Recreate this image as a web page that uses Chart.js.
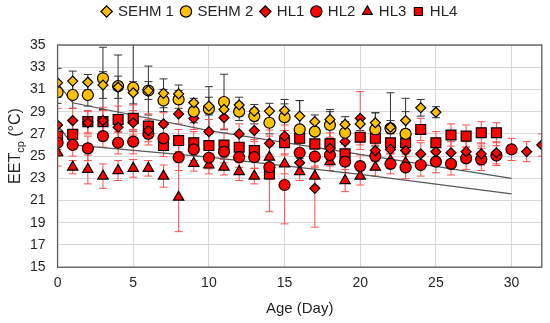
<!DOCTYPE html>
<html>
<head>
<meta charset="utf-8">
<script src="https://cdn.jsdelivr.net/npm/chart.js@4.4.0/dist/chart.umd.min.js"></script>
<style>
  html, body { margin: 0; padding: 0; background: #fff; }
  #wrap { width: 550px; height: 323px; }
</style>
</head>
<body>
<div id="wrap"><canvas id="grafico"></canvas></div>
<script>
  // dias (eixo x)
  const days = [0, 1, 2, 3, 4, 5, 6, 7, 8, 9, 10, 11, 12, 13, 14, 15, 16, 17, 18, 19, 20, 21, 22, 23, 24, 25, 26, 27, 28, 29, 30, 31, 32];

  // valores medios (null = sem medida)
  const sehm1 = [31.6, 31.75, 31.65, 31.4, 31.2, 30.7, 30.9, 30.65, 30.6, 29.8, 29.5, 29.2, 29.6, 29.05, 29.05, 29.1, 28.6, 28.1, 28.3, 27.85, 27.9, 28.0, 27.6, 28.2, 29.35, 28.95];
  const sehm2 = [30.75, 30.5, 30.5, 32.0, 31.3, 31.15, 30.9, 30.0, 30.1, 29.0, 29.25, 29.87, 29.0, 28.6, 28.0, 28.5, 27.4, 27.2, 27.8, 27.1, null, 27.4, 27.5, 27.0];
  const hl1 = [27.8, 28.2, 28.0, 28.2, 27.6, 28.0, 27.3, 27.9, 28.8, 28.4, 27.2, 28.45, 27.0, 27.3, 26.15, 26.8, 24.4, 22.1, 25.7, 26.3, 28.4, 25.5, 25.6, 25.5, 25.2, 25.4, 25.3, 25.4, 25.2, 25.3, null, 25.4, 26.0];
  const hl2 = [26.2, 26.0, 25.7, 26.8, 26.2, 26.3, 27.0, 26.6, 24.9, 25.6, 24.85, 25.4, 24.9, 24.9, 24.0, 22.4, 25.3, 24.95, 25.1, 24.5, 24.1, 25.0, 24.3, 23.97, 24.2, 24.5, 24.3, 24.8, 24.7, 25.05, 25.6];
  const hl3 = [25.3, 24.0, 23.8, 23.2, 23.7, 23.9, 23.9, 23.2, 21.3, 24.35, 24.2, 24.0, 23.6, 23.2, 24.9, 24.3, 23.6, 23.2, 24.5, 22.8, 23.2, 24.0, 24.6, 24.4, null, null, null, null, 25.1];
  const hl4 = [26.8, 26.96, 28.1, 28.1, 28.3, 28.4, 27.7, 25.95, 26.4, 26.2, 25.95, 26.0, 25.8, 25.5, 23.4, 26.2, 26.6, 26.1, 26.1, 25.2, 26.7, 26.6, 26.2, 26.2, 27.4, 26.2, 26.9, 26.8, 27.1, 27.1];

  // desvios (barras de erro)
  const sehm1Err = [1.3, 0.9, 0.7, 1.2, 1.0, 1.0, 0.8, 1.3, 0.8, 0.4, 0.8, 0.6, 0.7, 0.6, 0.7, 1.0, 1.4, 0.6, 0.9, 0.7, 0.6, 0.9, 0.6, 0.8, 0.75, 0.5];
  const sehm2Err = [1.0, 1.2, 1.0, 2.8, 2.8, 3.9, 2.2, 1.0, 0.8, 1.0, 2.0, 2.5, 0.8, 0.7, 1.0, 1.2, 2.6, 1.0, 1.2, 1.0, null, 1.5, 3.2, 3.2];
  const hl1Err = [1.5, 1.1, 1.0, 1.2, 1.0, 1.1, 1.0, 1.0, 0.9, 1.0, 1.1, 1.0, 0.9, 1.0, 1.2, 1.0, 1.0, 3.5, 1.0, 1.1, 2.4, 1.0, 0.9, 1.0, 1.0, 0.9, 1.0, 0.9, 1.0, 1.0, null, 0.9, 1.0];
  const hl2Err = [1.2, 1.0, 1.1, 1.0, 1.0, 1.1, 1.0, 1.0, 1.2, 1.0, 1.0, 1.0, 0.9, 1.0, 1.1, 3.5, 1.0, 1.0, 1.0, 1.0, 1.0, 1.0, 0.9, 1.0, 1.0, 1.0, 1.0, 1.0, 1.0, 0.9, 1.0];
  const hl3Err = [1.2, 0.6, 1.3, 1.1, 0.9, 0.8, 0.7, 1.0, 3.1, 0.7, 0.8, 0.7, 0.8, 0.7, 1.0, 0.9, 0.8, 0.9, 0.8, 1.0, 0.8, 0.8, 0.7, 0.8, null, null, null, null, 0.8];
  const hl4Err = [1.2, 1.1, 1.0, 1.0, 1.2, 1.2, 1.1, 1.0, 1.0, 1.0, 1.0, 1.1, 1.0, 1.0, 3.4, 1.1, 1.0, 1.0, 1.0, 1.0, 1.1, 1.0, 1.0, 1.0, 1.0, 1.0, 1.0, 1.0, 1.0, 0.9];

  // linhas de tendencia
  const trendUpX = [0, 1, 10, 20, 30];
  const trendUpY = [31.6, 29.8, 27.3, 25.15, 23.0];
  const trendLowX = [0, 1, 10, 20, 30];
  const trendLowY = [27.8, 26.0, 24.9, 23.35, 21.6];

  const AMARELO = '#FFC000';
  const VERMELHO = '#FF0000';

  function pontos(vals, errs) {
    const out = [];
    vals.forEach((v, i) => {
      if (v !== null && v !== undefined) out.push({ x: days[i], y: v, e: errs[i] || 0 });
    });
    return out;
  }

  function serie(label, vals, errs, estilo, cor, raio, barra) {
    return {
      label: label,
      data: pontos(vals, errs),
      pointStyle: estilo,
      pointRadius: raio,
      pointHoverRadius: raio,
      backgroundColor: cor,
      borderColor: '#000',
      borderWidth: 1.2,
      showLine: false,
      errColor: barra
    };
  }

  function linha(xs, ys) {
    return {
      type: 'line',
      label: 'trend',
      data: xs.map((x, i) => ({ x: x, y: ys[i] })),
      borderColor: '#595959',
      borderWidth: 1.3,
      pointRadius: 0,
      fill: false,
      tension: 0,
      order: 10
    };
  }

  // barras de erro desenhadas com as escalas do grafico
  const barrasErro = {
    id: 'barrasErro',
    beforeDatasetsDraw(chart) {
      const { ctx, chartArea, scales } = chart;
      ctx.save();
      ctx.beginPath();
      ctx.rect(chartArea.left, chartArea.top, chartArea.right - chartArea.left, chartArea.bottom - chartArea.top);
      ctx.clip();
      ctx.lineWidth = 1;
      chart.data.datasets.forEach(ds => {
        if (!ds.errColor) return;
        ctx.strokeStyle = ds.errColor;
        ds.data.forEach(p => {
          if (!p.e) return;
          const x = scales.x.getPixelForValue(p.x);
          const y1 = scales.y.getPixelForValue(p.y + p.e);
          const y2 = scales.y.getPixelForValue(p.y - p.e);
          ctx.beginPath();
          ctx.moveTo(x, y1); ctx.lineTo(x, y2);
          ctx.moveTo(x - 4, y1); ctx.lineTo(x + 4, y1);
          ctx.moveTo(x - 4, y2); ctx.lineTo(x + 4, y2);
          ctx.stroke();
        });
      });
      ctx.restore();
    }
  };

  // espaco extra abaixo da legenda
  const espacoLegenda = {
    id: 'espacoLegenda',
    beforeInit(chart) {
      const fitOrig = chart.legend.fit;
      chart.legend.fit = function () {
        fitOrig.bind(chart.legend)();
        this.height += 16;
      };
    }
  };

  // moldura + titulo do eixo y com subscrito
  const moldura = {
    id: 'moldura',
    afterDraw(chart) {
      const { ctx, chartArea } = chart;
      ctx.save();
      ctx.strokeStyle = '#595959';
      ctx.lineWidth = 1.3;
      ctx.strokeRect(chartArea.left, chartArea.top, chartArea.right - chartArea.left, chartArea.bottom - chartArea.top);

      ctx.translate(16, 146);
      ctx.rotate(-Math.PI / 2);
      ctx.fillStyle = '#262626';
      ctx.textBaseline = 'middle';
      const fGrande = '16px "Liberation Sans", Arial, sans-serif';
      const fPeq = '11px "Liberation Sans", Arial, sans-serif';
      ctx.font = fGrande;
      const w1 = ctx.measureText('EET').width;
      const w3 = ctx.measureText(' (°C)').width;
      ctx.font = fPeq;
      const w2 = ctx.measureText('cp').width;
      let x = -(w1 + w2 + w3) / 2;
      ctx.font = fGrande;
      ctx.fillText('EET', x, 0);
      x += w1;
      ctx.font = fPeq;
      ctx.fillText('cp', x, 5);
      x += w2;
      ctx.font = fGrande;
      ctx.fillText(' (°C)', x, 0);
      ctx.restore();
    }
  };

  Chart.defaults.font.family = '"Liberation Sans", Arial, sans-serif';
  Chart.defaults.color = '#262626';

  new Chart(document.getElementById('grafico'), {
    type: 'scatter',
    data: {
      datasets: [
        serie('SEHM 1', sehm1, sehm1Err, 'rectRot', AMARELO, 5, '#333'),
        serie('SEHM 2', sehm2, sehm2Err, 'circle', AMARELO, 5.5, '#333'),
        serie('HL1', hl1, hl1Err, 'rectRot', VERMELHO, 5, '#ff5050'),
        serie('HL2', hl2, hl2Err, 'circle', VERMELHO, 5.5, '#ff5050'),
        serie('HL3', hl3, hl3Err, 'triangle', VERMELHO, 6, '#ff5050'),
        serie('HL4', hl4, hl4Err, 'rect', VERMELHO, 7, '#ff5050'),
        linha(trendUpX, trendUpY),
        linha(trendLowX, trendLowY)
      ]
    },
    options: {
      responsive: true,
      maintainAspectRatio: false,
      animation: false,
      layout: { padding: { left: 18, right: 8, top: -4, bottom: 5 } },
      plugins: {
        tooltip: { enabled: false },
        legend: {
          position: 'top',
          labels: {
            usePointStyle: true,
            boxHeight: 8,
            boxWidth: 8,
            padding: 8,
            font: { size: 15 },
            filter: item => item.text !== 'trend'
          }
        }
      },
      scales: {
        x: {
          type: 'linear',
          min: 0,
          max: 32,
          afterBuildTicks: s => { s.ticks = s.ticks.filter(t => t.value % 5 === 0 && t.value <= 30); },
          ticks: { stepSize: 5, font: { size: 14 }, padding: 8 },
          grid: { color: '#d9d9d9', drawTicks: false },
          border: { display: false },
          title: { display: true, text: 'Age (Day)', font: { size: 15 }, padding: { top: 0, bottom: 0 } }
        },
        y: {
          min: 15,
          max: 35,
          ticks: { stepSize: 2, font: { size: 14 }, padding: 12 },
          grid: { color: '#d9d9d9', drawTicks: false },
          border: { display: false }
        }
      }
    },
    plugins: [espacoLegenda, barrasErro, moldura]
  });
</script>
</body>
</html>
